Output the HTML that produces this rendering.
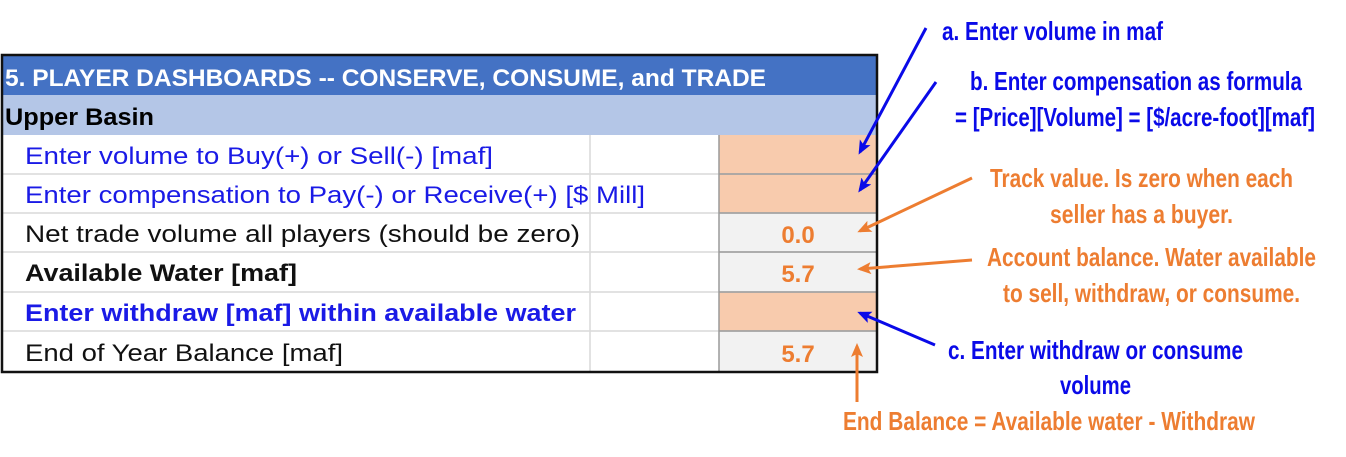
<!DOCTYPE html>
<html><head><meta charset="utf-8"><style>
html,body{margin:0;padding:0;background:#fff;}
svg{display:block;}
.t{font-family:"Liberation Sans",sans-serif;font-size:24px;}
.n{font-family:"Liberation Sans Narrow","Liberation Sans",sans-serif;font-size:26px;font-weight:bold;}
</style></head><body>
<svg width="1346" height="457" viewBox="0 0 1346 457">
<defs>
<marker id="ab" markerWidth="14" markerHeight="12" refX="11" refY="6" orient="auto" markerUnits="userSpaceOnUse" viewBox="0 0 14 12"><path d="M0,0 L14,6 L0,12 L3,6 z" fill="#0a0ae8"/></marker>
<marker id="ao" markerWidth="14" markerHeight="12" refX="11" refY="6" orient="auto" markerUnits="userSpaceOnUse" viewBox="0 0 14 12"><path d="M0,0 L14,6 L0,12 L3,6 z" fill="#ed7d31"/></marker>
</defs>
<g>
<rect x="2" y="55" width="875" height="40" fill="#4472c4"/>
<text class="t" x="5" y="86" fill="#fff" font-weight="bold" textLength="761" lengthAdjust="spacingAndGlyphs">5. PLAYER DASHBOARDS -- CONSERVE, CONSUME, and TRADE</text>
<rect x="2" y="95" width="875" height="40" fill="#b4c6e7"/>
<text class="t" x="5" y="125" fill="#000" font-weight="bold" textLength="149" lengthAdjust="spacingAndGlyphs">Upper Basin</text>
<rect x="719" y="135" width="158" height="39" fill="#f8cbad"/>
<rect x="719" y="174" width="158" height="39" fill="#f8cbad"/>
<rect x="719" y="213" width="158" height="39" fill="#f2f2f2"/>
<rect x="719" y="252" width="158" height="40" fill="#f2f2f2"/>
<rect x="719" y="292" width="158" height="39" fill="#f8cbad"/>
<rect x="719" y="331" width="158" height="41" fill="#f2f2f2"/>
<g stroke="#d9d9d9" stroke-width="1.5">
<line x1="2" y1="174" x2="877" y2="174"/><line x1="2" y1="213" x2="877" y2="213"/>
<line x1="2" y1="252" x2="877" y2="252"/><line x1="2" y1="292" x2="877" y2="292"/>
<line x1="2" y1="331" x2="877" y2="331"/><line x1="590" y1="135" x2="590" y2="372"/>
</g>
<g stroke="#9a9a9a" stroke-width="1.5">
<line x1="719" y1="135" x2="719" y2="372"/>
<line x1="719" y1="174" x2="877" y2="174"/><line x1="719" y1="213" x2="877" y2="213"/>
<line x1="719" y1="252" x2="877" y2="252"/><line x1="719" y1="292" x2="877" y2="292"/>
<line x1="719" y1="331" x2="877" y2="331"/>
</g>
<text class="t" x="25" y="164" fill="#1a1ae6" textLength="468" lengthAdjust="spacingAndGlyphs">Enter volume to Buy(+) or Sell(-) [maf]</text>
<text class="t" x="25" y="203" fill="#1a1ae6" textLength="620" lengthAdjust="spacingAndGlyphs">Enter compensation to Pay(-) or Receive(+) [$ Mill]</text>
<text class="t" x="25" y="242" fill="#111" textLength="555" lengthAdjust="spacingAndGlyphs">Net trade volume all players (should be zero)</text>
<text class="t" x="25" y="281" fill="#111" font-weight="bold" textLength="272" lengthAdjust="spacingAndGlyphs">Available Water [maf]</text>
<text class="t" x="25" y="321" fill="#1a1ae6" font-weight="bold" textLength="551" lengthAdjust="spacingAndGlyphs">Enter withdraw [maf] within available water</text>
<text class="t" x="25" y="361" fill="#111" textLength="318" lengthAdjust="spacingAndGlyphs">End of Year Balance [maf]</text>
<text class="t" x="798" y="243" fill="#ed7d31" font-weight="bold" font-size="26" text-anchor="middle">0.0</text>
<text class="t" x="798" y="282" fill="#ed7d31" font-weight="bold" font-size="26" text-anchor="middle">5.7</text>
<text class="t" x="798" y="362" fill="#ed7d31" font-weight="bold" font-size="26" text-anchor="middle">5.7</text>
<rect x="2" y="55" width="875" height="317" fill="none" stroke="#111" stroke-width="2.5"/>
</g>
<g stroke-width="3" fill="none">
<line x1="926" y1="28" x2="860" y2="152" stroke="#0a0ae8" marker-end="url(#ab)"/>
<line x1="936" y1="82" x2="860" y2="190" stroke="#0a0ae8" marker-end="url(#ab)"/>
<line x1="972" y1="178" x2="860" y2="231" stroke="#ed7d31" marker-end="url(#ao)"/>
<line x1="972" y1="260" x2="860" y2="269" stroke="#ed7d31" marker-end="url(#ao)"/>
<line x1="935" y1="345" x2="860" y2="313" stroke="#0a0ae8" marker-end="url(#ab)"/>
<line x1="857" y1="402" x2="857" y2="346" stroke="#ed7d31" marker-end="url(#ao)"/>
</g>
<g>
<text class="n" x="942" y="40" fill="#0a0ae8" textLength="221" lengthAdjust="spacingAndGlyphs">a. Enter volume in maf</text>
<text class="n" x="970" y="90" fill="#0a0ae8" textLength="332" lengthAdjust="spacingAndGlyphs">b. Enter compensation as formula</text>
<text class="n" x="955" y="126" fill="#0a0ae8" textLength="360" lengthAdjust="spacingAndGlyphs">= [Price][Volume] = [$/acre-foot][maf]</text>
<text class="n" x="990" y="187" fill="#ed7d31" textLength="303" lengthAdjust="spacingAndGlyphs">Track value. Is zero when each</text>
<text class="n" x="1050" y="223" fill="#ed7d31" textLength="183" lengthAdjust="spacingAndGlyphs">seller has a buyer.</text>
<text class="n" x="987" y="266" fill="#ed7d31" textLength="329" lengthAdjust="spacingAndGlyphs">Account balance. Water available</text>
<text class="n" x="1003" y="302" fill="#ed7d31" textLength="297" lengthAdjust="spacingAndGlyphs">to sell, withdraw, or consume.</text>
<text class="n" x="948" y="359" fill="#0a0ae8" textLength="295" lengthAdjust="spacingAndGlyphs">c. Enter withdraw or consume</text>
<text class="n" x="1060" y="394" fill="#0a0ae8" textLength="71" lengthAdjust="spacingAndGlyphs">volume</text>
<text class="n" x="843" y="430" fill="#ed7d31" textLength="412" lengthAdjust="spacingAndGlyphs">End Balance = Available water - Withdraw</text>
</g>
</svg>
</body></html>
